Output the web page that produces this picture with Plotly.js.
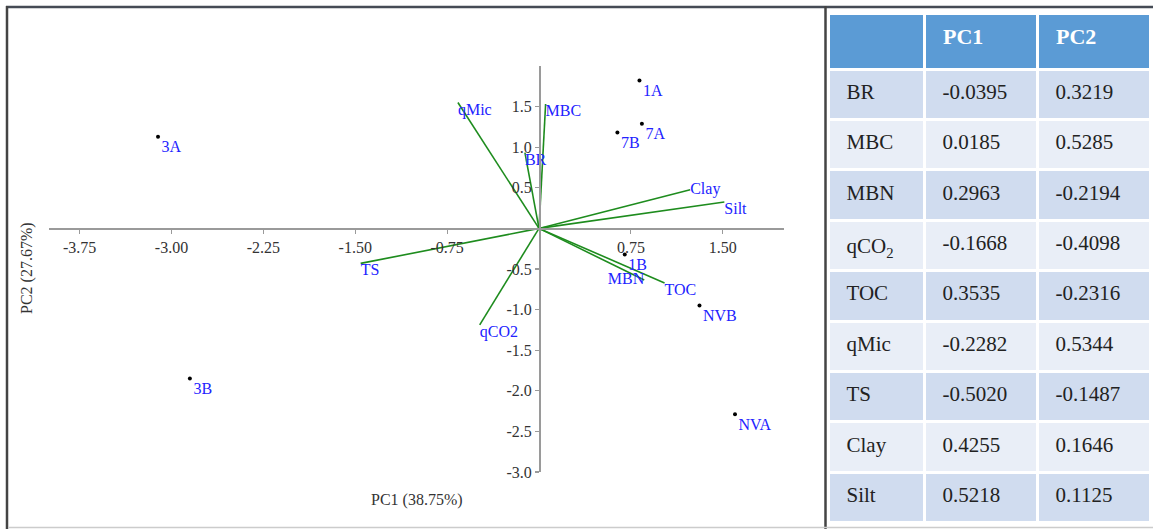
<!DOCTYPE html>
<html>
<head>
<meta charset="utf-8">
<script src="https://cdn.plot.ly/plotly-3.0.1.min.js"></script>
<style>html,body{margin:0;padding:0;background:#fff;}#chart{width:1153px;height:529px;}</style>
</head>
<body>
<div id="chart"></div>
<script>
// ---- Data ----
// Sample scores
var sampleNames = ['1A', '7A', '7B', '3A', '3B', '1B', 'NVB', 'NVA'];
var samplePC1 = [0.82, 0.84, 0.64, -3.11, -2.85, 0.70, 1.31, 1.60];
var samplePC2 = [1.82, 1.29, 1.18, 1.13, -1.85, -0.32, -0.95, -2.29];

// Variable vectors (arrow end points)
var vecNames = ['BR', 'MBC', 'MBN', 'qCO2', 'TOC', 'qMic', 'TS', 'Clay', 'Silt'];
var vecPC1 = [-0.115, 0.054, 0.859, -0.484, 1.025, -0.662, -1.456, 1.234, 1.513];
var vecPC2 = [0.934, 1.533, -0.636, -1.188, -0.672, 1.550, -0.431, 0.477, 0.326];
var vecLabelPos = ['bottom right', 'bottom right', 'middle left', 'bottom right', 'bottom right',
                   'bottom right', 'bottom right', 'middle right', 'bottom right'];

// Loadings table
var tableVars = ['BR', 'MBC', 'MBN', 'qCO<sub>2</sub>', 'TOC', 'qMic', 'TS', 'Clay', 'Silt'];
var loadPC1 = [-0.0395, 0.0185, 0.2963, -0.1668, 0.3535, -0.2282, -0.5020, 0.4255, 0.5218];
var loadPC2 = [0.3219, 0.5285, -0.2194, -0.4098, -0.2316, 0.5344, -0.1487, 0.1646, 0.1125];
var tableHeader = ['', 'PC1', 'PC2'];

// Axis ticks
var xTickVals = [-3.75, -3.00, -2.25, -1.50, -0.75, 0.75, 1.50];
var xTickText = ['-3.75', '-3.00', '-2.25', '-1.50', '-0.75', '0.75', '1.50'];
var yTickVals = [1.5, 1.0, 0.5, -0.5, -1.0, -1.5, -2.0, -2.5, -3.0];
var yTickText = ['1.5', '1.0', '0.5', '-0.5', '-1.0', '-1.5', '-2.0', '-2.5', '-3.0'];
var xRange = [-4, 2];
var yRange = [-3, 2];
var xTitle = 'PC1 (38.75%)';
var yTitle = 'PC2 (27.67%)';

// ---- Build ----
var W = 1153, H = 529;
var serif = 'Liberation Serif, Times New Roman, serif';
var green = '#1e8c1e';
var blue = '#2222ff';

var lx = [], ly = [];
for (var i = 0; i < vecNames.length; i++) {
  lx.push(0, vecPC1[i], null);
  ly.push(0, vecPC2[i], null);
}

// plot-area pixel box
var px0 = 49, px1 = 784, py0 = 66, py1 = 472;
var xDom = [px0 / W, px1 / W];
var yDom = [1 - py1 / H, 1 - py0 / H];
var xZeroFrac = xDom[0] + (0 - xRange[0]) / (xRange[1] - xRange[0]) * (xDom[1] - xDom[0]);
var yZeroFrac = yDom[0] + (0 - yRange[0]) / (yRange[1] - yRange[0]) * (yDom[1] - yDom[0]);

var rowColors = [];
for (var r = 0; r < tableVars.length; r++) rowColors.push(r % 2 === 0 ? '#D0DCEF' : '#E9EEF7');
var blankCol = tableVars.map(function () { return ''; });

// table geometry
var tblX = [828 / W, 1150 / W];
var tblTop = 13, textShift = 6, headH = 56, rowH = 50.4;
var colW = [96, 113, 113];
var clear = 'rgba(0,0,0,0)';

var traces = [
  {
    type: 'scatter', mode: 'lines', x: lx, y: ly,
    line: {color: green, width: 1.6}, hoverinfo: 'skip', showlegend: false
  },
  {
    type: 'scatter', mode: 'text', x: vecPC1, y: vecPC2, text: vecNames,
    textposition: vecLabelPos, textfont: {family: serif, size: 16, color: blue},
    showlegend: false, cliponaxis: false
  },
  {
    type: 'scatter', mode: 'markers+text', x: samplePC1, y: samplePC2, text: sampleNames,
    textposition: 'bottom right', marker: {color: '#000', size: 4},
    textfont: {family: serif, size: 16, color: blue}, showlegend: false, cliponaxis: false
  },
  // table: cell fills and white rules
  {
    type: 'table',
    domain: {x: tblX, y: [0, 1 - tblTop / H]},
    columnwidth: colW,
    header: {
      values: ['', '', ''], height: headH,
      fill: {color: '#5B9BD5'}, line: {color: '#ffffff', width: 3},
      font: {family: serif, size: 22, color: '#ffffff'}
    },
    cells: {
      values: [blankCol, blankCol, blankCol], height: rowH,
      fill: {color: [rowColors, rowColors, rowColors]},
      line: {color: '#ffffff', width: 3},
      font: {family: serif, size: 21, color: '#222222'}
    }
  },
  // table: text, nudged down to sit mid-cell
  {
    type: 'table',
    domain: {x: tblX, y: [0, 1 - (tblTop + textShift) / H]},
    columnwidth: colW,
    header: {
      values: tableHeader, height: headH, align: 'left', prefix: '\u00A0\u00A0',
      fill: {color: clear}, line: {color: clear, width: 3},
      font: {family: serif, size: 22, color: '#ffffff', weight: 'bold'}
    },
    cells: {
      values: [tableVars, loadPC1, loadPC2], format: ['', '.4f', '.4f'],
      height: rowH, align: 'left', prefix: '\u00A0\u00A0',
      fill: {color: clear}, line: {color: clear, width: 3},
      font: {family: serif, size: 21, color: '#222222'}
    }
  }
];

var axisCommon = {
  showgrid: false, zeroline: false, showline: true,
  linecolor: '#9a9a9a', linewidth: 1.5,
  ticks: 'outside', ticklen: 4, tickwidth: 1.2, tickcolor: '#9a9a9a',
  tickmode: 'array', fixedrange: true,
  tickfont: {family: serif, size: 16, color: '#333333'}
};

var layout = {
  width: W, height: H,
  margin: {l: 0, r: 0, t: 0, b: 0},
  paper_bgcolor: '#ffffff', plot_bgcolor: 'rgba(0,0,0,0)',
  showlegend: false,
  xaxis: Object.assign({}, axisCommon, {
    domain: xDom, range: xRange, anchor: 'free', position: yZeroFrac, side: 'bottom',
    tickvals: xTickVals, ticktext: xTickText
  }),
  yaxis: Object.assign({}, axisCommon, {
    domain: yDom, range: yRange, anchor: 'free', position: xZeroFrac, side: 'left',
    tickvals: yTickVals, ticktext: yTickText
  }),
  annotations: [
    {text: xTitle, xref: 'paper', yref: 'paper', x: (px0 + px1) / 2 / W, y: 1 - 500 / H,
     showarrow: false, xanchor: 'center', yanchor: 'middle',
     font: {family: serif, size: 16, color: '#333333'}},
    {text: yTitle, xref: 'paper', yref: 'paper', x: 27 / W, y: 1 - 268 / H, textangle: -90,
     showarrow: false, xanchor: 'center', yanchor: 'middle',
     font: {family: serif, size: 16, color: '#333333'}}
  ],
  shapes: [
    {type: 'line', xref: 'paper', yref: 'paper', x0: 6 / W, x1: 1, y0: 1 - 7 / H, y1: 1 - 7 / H,
     line: {color: '#454b55', width: 2.5}},
    {type: 'line', xref: 'paper', yref: 'paper', x0: 7 / W, x1: 7 / W, y0: 0, y1: 1 - 6 / H,
     line: {color: '#444444', width: 2.5}},
    {type: 'line', xref: 'paper', yref: 'paper', x0: 825.5 / W, x1: 825.5 / W, y0: 0, y1: 1 - 6 / H,
     line: {color: '#444444', width: 2.5}},
    {type: 'line', xref: 'paper', yref: 'paper', x0: 8 / W, x1: 1, y0: 1 - 527.5 / H, y1: 1 - 527.5 / H,
     line: {color: '#cccccc', width: 1.5}}
  ]
};

Plotly.newPlot('chart', traces, layout, {displayModeBar: false, staticPlot: true});
</script>
</body>
</html>
